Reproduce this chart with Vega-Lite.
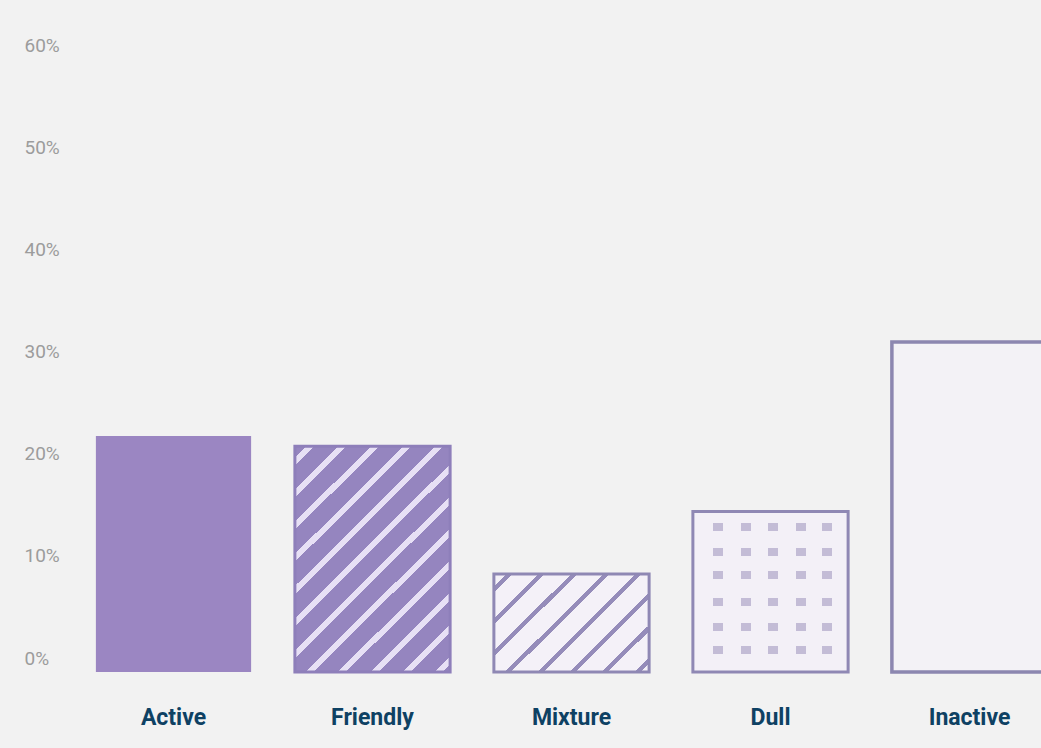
{
  "$schema": "https://vega.github.io/schema/vega-lite/v6.json",
  "autosize": {"type": "none"},
  "width": 967,
  "height": 613,
  "padding": {"left": 74, "top": 59, "right": 0, "bottom": 76},
  "background": "#f2f2f2",
  "config": {"view": {"stroke": null}},
  "data": {"values": [
    {"category": "Active", "share": 0.231},
    {"category": "Friendly", "share": 0.221},
    {"category": "Mixture", "share": 0.096},
    {"category": "Dull", "share": 0.157},
    {"category": "Inactive", "share": 0.323}
  ]},
  "encoding": {
    "x": {"field": "category", "type": "nominal", "sort": null,
      "scale": {"range": [0, 995], "paddingInner": 0.22, "paddingOuter": 0.11},
      "axis": {"title": null, "domain": false, "ticks": false, "labelAngle": 0, "labelPadding": 34,
        "labelFont": "Roboto", "labelFontWeight": "bold", "labelFontSize": 23, "labelColor": "#0e4163"}},
    "y": {"field": "share", "type": "quantitative",
      "scale": {"domain": [0, 0.6], "nice": false},
      "axis": {"title": null, "domain": false, "ticks": false, "tickSize": 0, "grid": false,
        "values": [0, 0.1, 0.2, 0.3, 0.4, 0.5, 0.6], "format": ".0%",
        "labelAlign": "left", "labelPadding": 50, "labelOffset": -14,
        "labelFont": "Roboto", "labelFontSize": 19, "labelColor": "#9c9c9c"}}
  },
  "layer": [
    {"transform": [{"filter": "datum.category === 'Active'"}],
     "mark": {"type": "bar", "fill": "#9b86c2"}},
    {"transform": [{"filter": "datum.category === 'Friendly'"}],
     "mark": {"type": "bar", "stroke": "#8e7fba", "strokeWidth": 3,
      "fill": {"gradient": "linear", "x1": 0, "y1": 0, "x2": 0.784, "y2": 1.148, "stops": [
        {"offset": 0, "color": "#9585bf"}, {"offset": 0.03, "color": "#9585bf"},
        {"offset": 0.03, "color": "#e7e0f5"}, {"offset": 0.051, "color": "#e7e0f5"},
        {"offset": 0.051, "color": "#9585bf"}, {"offset": 0.1145, "color": "#9585bf"},
        {"offset": 0.1145, "color": "#e7e0f5"}, {"offset": 0.1356, "color": "#e7e0f5"},
        {"offset": 0.1356, "color": "#9585bf"}, {"offset": 0.199, "color": "#9585bf"},
        {"offset": 0.199, "color": "#e7e0f5"}, {"offset": 0.2201, "color": "#e7e0f5"},
        {"offset": 0.2201, "color": "#9585bf"}, {"offset": 0.2835, "color": "#9585bf"},
        {"offset": 0.2835, "color": "#e7e0f5"}, {"offset": 0.3046, "color": "#e7e0f5"},
        {"offset": 0.3046, "color": "#9585bf"}, {"offset": 0.368, "color": "#9585bf"},
        {"offset": 0.368, "color": "#e7e0f5"}, {"offset": 0.3891, "color": "#e7e0f5"},
        {"offset": 0.3891, "color": "#9585bf"}, {"offset": 0.4525, "color": "#9585bf"},
        {"offset": 0.4525, "color": "#e7e0f5"}, {"offset": 0.4736, "color": "#e7e0f5"},
        {"offset": 0.4736, "color": "#9585bf"}, {"offset": 0.537, "color": "#9585bf"},
        {"offset": 0.537, "color": "#e7e0f5"}, {"offset": 0.5581, "color": "#e7e0f5"},
        {"offset": 0.5581, "color": "#9585bf"}, {"offset": 0.6215, "color": "#9585bf"},
        {"offset": 0.6215, "color": "#e7e0f5"}, {"offset": 0.6426, "color": "#e7e0f5"},
        {"offset": 0.6426, "color": "#9585bf"}, {"offset": 0.706, "color": "#9585bf"},
        {"offset": 0.706, "color": "#e7e0f5"}, {"offset": 0.7271, "color": "#e7e0f5"},
        {"offset": 0.7271, "color": "#9585bf"}, {"offset": 0.7905, "color": "#9585bf"},
        {"offset": 0.7905, "color": "#e7e0f5"}, {"offset": 0.8116, "color": "#e7e0f5"},
        {"offset": 0.8116, "color": "#9585bf"}, {"offset": 0.875, "color": "#9585bf"},
        {"offset": 0.875, "color": "#e7e0f5"}, {"offset": 0.8961, "color": "#e7e0f5"},
        {"offset": 0.8961, "color": "#9585bf"}, {"offset": 0.9595, "color": "#9585bf"},
        {"offset": 0.9595, "color": "#e7e0f5"}, {"offset": 0.9806, "color": "#e7e0f5"},
        {"offset": 0.9806, "color": "#9585bf"}, {"offset": 1, "color": "#9585bf"}
      ]}}},
    {"transform": [{"filter": "datum.category === 'Mixture'"}],
     "mark": {"type": "bar", "stroke": "#8f88b4", "strokeWidth": 3,
      "fill": {"gradient": "linear", "x1": 0, "y1": 0, "x2": 1.165, "y2": 0.741, "stops": [
        {"offset": 0, "color": "#f4f1f8"}, {"offset": 0.05, "color": "#f4f1f8"},
        {"offset": 0.05, "color": "#958cba"}, {"offset": 0.074, "color": "#958cba"},
        {"offset": 0.074, "color": "#f4f1f8"}, {"offset": 0.1772, "color": "#f4f1f8"},
        {"offset": 0.1772, "color": "#958cba"}, {"offset": 0.2012, "color": "#958cba"},
        {"offset": 0.2012, "color": "#f4f1f8"}, {"offset": 0.3044, "color": "#f4f1f8"},
        {"offset": 0.3044, "color": "#958cba"}, {"offset": 0.3284, "color": "#958cba"},
        {"offset": 0.3284, "color": "#f4f1f8"}, {"offset": 0.4316, "color": "#f4f1f8"},
        {"offset": 0.4316, "color": "#958cba"}, {"offset": 0.4556, "color": "#958cba"},
        {"offset": 0.4556, "color": "#f4f1f8"}, {"offset": 0.5588, "color": "#f4f1f8"},
        {"offset": 0.5588, "color": "#958cba"}, {"offset": 0.5828, "color": "#958cba"},
        {"offset": 0.5828, "color": "#f4f1f8"}, {"offset": 0.686, "color": "#f4f1f8"},
        {"offset": 0.686, "color": "#958cba"}, {"offset": 0.71, "color": "#958cba"},
        {"offset": 0.71, "color": "#f4f1f8"}, {"offset": 0.8132, "color": "#f4f1f8"},
        {"offset": 0.8132, "color": "#958cba"}, {"offset": 0.8372, "color": "#958cba"},
        {"offset": 0.8372, "color": "#f4f1f8"}, {"offset": 0.9404, "color": "#f4f1f8"},
        {"offset": 0.9404, "color": "#958cba"}, {"offset": 0.9644, "color": "#958cba"},
        {"offset": 0.9644, "color": "#f4f1f8"}, {"offset": 1, "color": "#f4f1f8"}
      ]}}},
    {"transform": [{"filter": "datum.category === 'Dull'"}],
     "mark": {"type": "bar",
      "fill": {"gradient": "linear", "x1": 0, "y1": 0, "x2": 0, "y2": 1, "stops": [
        {"offset": 0, "color": "#f3f0f7"}, {"offset": 0.072, "color": "#f3f0f7"},
        {"offset": 0.072, "color": "#c3bcd6"}, {"offset": 0.122, "color": "#c3bcd6"},
        {"offset": 0.122, "color": "#f3f0f7"}, {"offset": 0.227, "color": "#f3f0f7"},
        {"offset": 0.227, "color": "#c3bcd6"}, {"offset": 0.277, "color": "#c3bcd6"},
        {"offset": 0.277, "color": "#f3f0f7"}, {"offset": 0.371, "color": "#f3f0f7"},
        {"offset": 0.371, "color": "#c3bcd6"}, {"offset": 0.421, "color": "#c3bcd6"},
        {"offset": 0.421, "color": "#f3f0f7"}, {"offset": 0.539, "color": "#f3f0f7"},
        {"offset": 0.539, "color": "#c3bcd6"}, {"offset": 0.589, "color": "#c3bcd6"},
        {"offset": 0.589, "color": "#f3f0f7"}, {"offset": 0.695, "color": "#f3f0f7"},
        {"offset": 0.695, "color": "#c3bcd6"}, {"offset": 0.745, "color": "#c3bcd6"},
        {"offset": 0.745, "color": "#f3f0f7"}, {"offset": 0.838, "color": "#f3f0f7"},
        {"offset": 0.838, "color": "#c3bcd6"}, {"offset": 0.888, "color": "#c3bcd6"},
        {"offset": 0.888, "color": "#f3f0f7"}, {"offset": 1, "color": "#f3f0f7"}
      ]}}},
    {"transform": [{"filter": "datum.category === 'Dull'"}],
     "mark": {"type": "bar", "stroke": "#8f88b4", "strokeWidth": 3,
      "fill": {"gradient": "linear", "x1": 0, "y1": 0, "x2": 1, "y2": 0, "stops": [
        {"offset": 0, "color": "#f3f0f7"}, {"offset": 0.13, "color": "#f3f0f7"},
        {"offset": 0.13, "color": "rgba(243,240,247,0)"}, {"offset": 0.194, "color": "rgba(243,240,247,0)"},
        {"offset": 0.194, "color": "#f3f0f7"}, {"offset": 0.312, "color": "#f3f0f7"},
        {"offset": 0.312, "color": "rgba(243,240,247,0)"}, {"offset": 0.376, "color": "rgba(243,240,247,0)"},
        {"offset": 0.376, "color": "#f3f0f7"}, {"offset": 0.487, "color": "#f3f0f7"},
        {"offset": 0.487, "color": "rgba(243,240,247,0)"}, {"offset": 0.551, "color": "rgba(243,240,247,0)"},
        {"offset": 0.551, "color": "#f3f0f7"}, {"offset": 0.663, "color": "#f3f0f7"},
        {"offset": 0.663, "color": "rgba(243,240,247,0)"}, {"offset": 0.727, "color": "rgba(243,240,247,0)"},
        {"offset": 0.727, "color": "#f3f0f7"}, {"offset": 0.832, "color": "#f3f0f7"},
        {"offset": 0.832, "color": "rgba(243,240,247,0)"}, {"offset": 0.896, "color": "rgba(243,240,247,0)"},
        {"offset": 0.896, "color": "#f3f0f7"}, {"offset": 1, "color": "#f3f0f7"}
      ]}}},
    {"transform": [{"filter": "datum.category === 'Inactive'"}],
     "mark": {"type": "bar", "fill": "#f3f2f6", "stroke": "#8c87b0", "strokeWidth": 3.5}}
  ]
}
